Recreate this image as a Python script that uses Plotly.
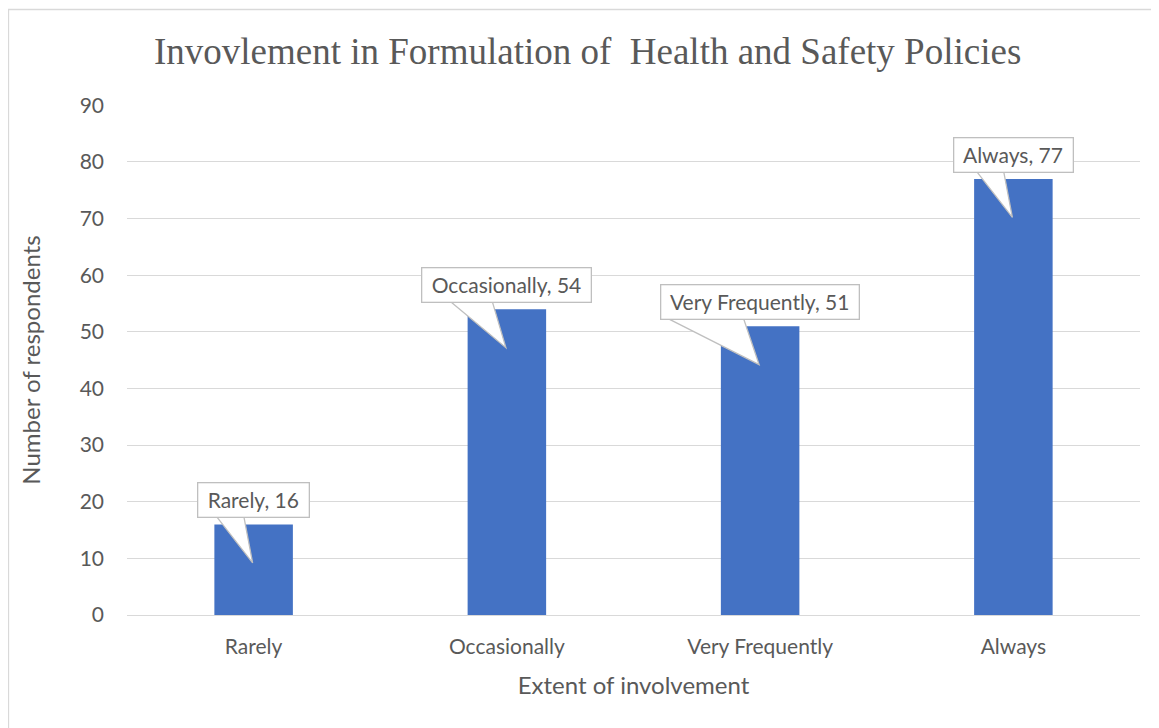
import plotly.graph_objects as go

categories = ["Rarely", "Occasionally", "Very Frequently", "Always"]
respondents = [16, 54, 51, 77]
y_ticks = [0, 10, 20, 30, 40, 50, 60, 70, 80, 90]

# callout pointer geometry (pixels relative to bar centre) - styling only
wedge_left_px = [-38, -58, -95, -38]
wedge_right_px = [-10, -15, -17, -10]

# the page body adds an 8px offset; figure coords = page coords - 8
W, H = 1151, 720
L, R, T, B = 119, 19, 97, 113
pw = W - L - R
ph = H - T - B
x_unit = pw / len(categories)      # px per category
y_unit = ph / 90.0                 # px per value unit

TXT = "#595959"
GRID = "#d9d9d9"
BAR = "#4472c4"
FONT = "Lato, Carlito, Calibri, sans-serif"

xs = list(range(len(categories)))

fig = go.Figure()
fig.add_trace(go.Bar(
    x=xs, y=respondents, width=0.31, marker=dict(color=BAR, line=dict(width=0)),
    hoverinfo="skip", showlegend=False,
))

shapes = []
annotations = []
box_shift_px = 24
for i, (c, v) in enumerate(zip(categories, respondents)):
    base_y = v + (box_shift_px - 15) / y_unit
    tip_y = v - 6.8
    xl = i + wedge_left_px[i] / x_unit
    xr = i + wedge_right_px[i] / x_unit
    xt = i - 1.0 / x_unit
    shapes.append(dict(
        type="path", xref="x", yref="y", layer="above",
        path=f"M {xl},{base_y} L {xt},{tip_y} L {xr},{base_y}",
        fillcolor="white", line=dict(color="#bfbfbf", width=1.3),
    ))
    annotations.append(dict(
        x=i, y=v, xref="x", yref="y", yshift=box_shift_px, showarrow=False,
        text=f"&nbsp;{c}, {v}&nbsp;", font=dict(family=FONT, size=21, color=TXT),
        bgcolor="white", bordercolor="#bfbfbf", borderwidth=1.3, borderpad=4,
        xanchor="center", yanchor="middle",
    ))

# outer chart frame
shapes.append(dict(
    type="rect", xref="paper", yref="paper",
    x0=(0.5 - L) / pw, x1=(W + 5 - L) / pw,
    y0=-(H + 5 - T - ph) / ph, y1=1 + (T - 1.5) / ph,
    line=dict(color="#d9d9d9", width=1.3), fillcolor="rgba(0,0,0,0)", layer="below",
))

annotations.append(dict(
    text="Invovlement in Formulation of&nbsp; Health and Safety Policies",
    xref="paper", yref="paper", x=(579 - L) / pw, y=1 + (T - 44) / ph,
    xanchor="center", yanchor="middle", showarrow=False,
    font=dict(family="Liberation Serif, Times New Roman, serif", size=37, color=TXT),
))

fig.update_layout(
    width=W, height=H,
    margin=dict(l=L, r=R, t=T, b=B),
    paper_bgcolor="white", plot_bgcolor="white",
    shapes=shapes, annotations=annotations,
    xaxis=dict(
        tickmode="array", tickvals=xs, ticktext=categories,
        range=[-0.5, len(categories) - 0.5],
        showgrid=False, zeroline=False, showline=True, linecolor=GRID, linewidth=1,
        ticks="", ticklabelstandoff=13, tickfont=dict(family=FONT, size=21, color=TXT),
        title=dict(text="Extent of involvement", font=dict(family=FONT, size=24, color=TXT), standoff=19),
    ),
    yaxis=dict(
        range=[0, 90.05], tickmode="array", tickvals=y_ticks,
        showgrid=True, gridcolor=GRID, gridwidth=1, zeroline=False, showline=False,
        ticks="", ticklabelstandoff=22, tickfont=dict(family=FONT, size=21, color=TXT),
        title=dict(text="Number of respondents", font=dict(family=FONT, size=24, color=TXT), standoff=32),
    ),
)

fig.write_html("out.html")
